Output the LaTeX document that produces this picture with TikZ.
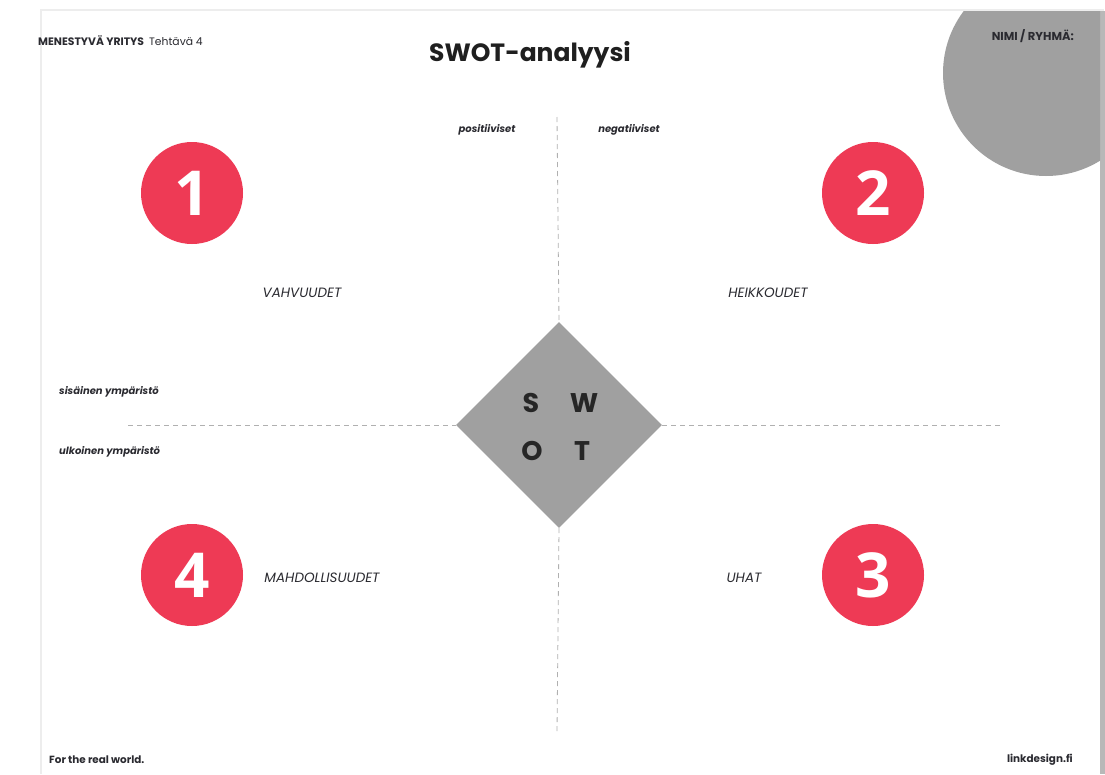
\documentclass[tikz,border=0pt]{standalone}
\usepackage{fontspec}
\setmainfont{Poppins}
\newfontfamily\digitfont{Open Sans}
\usetikzlibrary{shapes.geometric}
\definecolor{swotred}{HTML}{EE3A55}
\definecolor{swotgray}{HTML}{A0A0A0}
\definecolor{inktext}{HTML}{2A2A30}
\definecolor{dashgray}{HTML}{B0B0B0}
\tikzset{
  numdisc/.style={circle,fill=swotred,minimum size=102pt,inner sep=0pt,text=white,font=\digitfont\bfseries\fontsize{62}{62}\selectfont},
  quadlabel/.style={font=\itshape\fontsize{13.5}{14}\selectfont,text=inktext,inner sep=0pt},
  sidelabel/.style={font=\bfseries\itshape\fontsize{10}{11}\selectfont,text=inktext,inner sep=0pt},
  smalllabel/.style={font=\bfseries\fontsize{10.4}{12}\selectfont,text=inktext,inner sep=0pt},
  swotletter/.style={font=\bfseries\fontsize{27}{27}\selectfont,text=black!85,inner sep=0pt},
  axis/.style={draw=dashgray,dash pattern=on 5pt off 4pt,line width=0.8pt}
}
\begin{document}
\begin{tikzpicture}[x=1pt,y=-1pt]
\useasboundingbox (0,0) rectangle (1105,774);
% page
\fill[white] (0,0) rectangle (1105,774);
\fill[black!7] (40,9) rectangle (1104,774);
\fill[white] (42,11) rectangle (1100,774);
\fill[black!28] (1100,11) rectangle (1105,774);
% corner circle
\begin{scope}
\clip (42,11) rectangle (1100,774);
\fill[swotgray] (1046,73) circle (103);
\end{scope}
% axes
\coordinate (vt) at (557,117);
\coordinate (vb) at (557,732);
\coordinate (hl) at (128,425);
\coordinate (hr) at (1000,425);
\node[diamond,fill=swotgray,minimum width=206pt,minimum height=206pt,inner sep=0pt] (dia) at (559,425) {};
\draw[axis] (vt) -- (dia.north);
\draw[axis] (dia.south) -- (vb);
\draw[axis] (hl) -- (dia.west);
\draw[axis] (dia.east) -- (hr);
% SWOT letters
\node[swotletter] (ls) at (531,403) {S};
\node[swotletter] (lw) at (584,403) {W};
\node[swotletter] (lo) at (532,451) {O};
\node[swotletter] (lt) at (582,451) {T};
% discs
\node[numdisc] (n1) at (192,193) {1};
\node[numdisc] (n2) at (873,193) {2};
\node[numdisc] (n3) at (873,575) {3};
\node[numdisc] (n4) at (192,575) {4};
% quadrant labels
\node[quadlabel] (q1) at (302,293) {VAHVUUDET};
\node[quadlabel] (q2) at (768,293) {HEIKKOUDET};
\node[quadlabel] (q4) at (322,578) {MAHDOLLISUUDET};
\node[quadlabel] (q3) at (744,578) {UHAT};
% axis labels
\node[sidelabel] (pos) at (487,130) {positiiviset};
\node[sidelabel] (neg) at (629,130) {negatiiviset};
\node[sidelabel,anchor=west] (sis) at (59,392) {sisäinen ympäristö};
\node[sidelabel,anchor=west] (ulk) at (59,452) {ulkoinen ympäristö};
% header / footer
\node[font=\bfseries\fontsize{25}{28}\selectfont,text=black!88,inner sep=0pt] (title) at (530,55) {SWOT-analyysi};
\node[smalllabel,font=\bfseries\fontsize{10.8}{12}\selectfont,anchor=west] (hdr) at (38,41) {MENESTYVÄ YRITYS\hspace{5pt}{\mdseries Tehtävä 4}};
\node[smalllabel,font=\bfseries\fontsize{11.5}{12}\selectfont,anchor=east] (nimi) at (1074,36) {NIMI / RYHMÄ:};
\node[smalllabel,anchor=west] (foot) at (49,760) {For the real world.};
\node[smalllabel,anchor=east] (web) at (1073,760) {linkdesign.fi};
\end{tikzpicture}
\end{document}
